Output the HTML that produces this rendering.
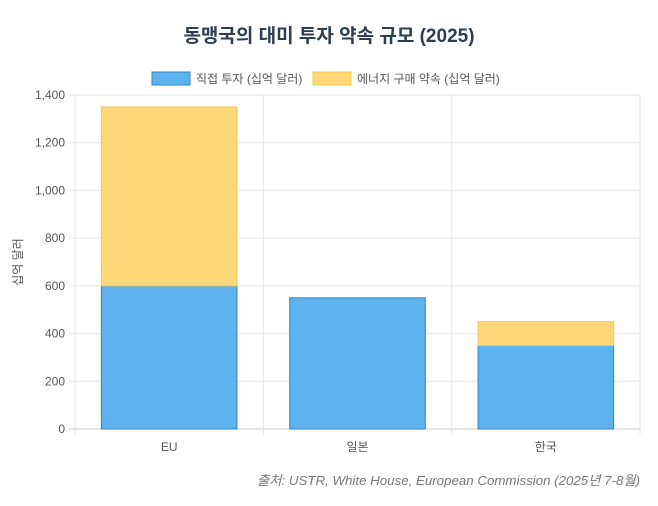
<!DOCTYPE html>
<html><head><meta charset="utf-8">
<style>
body{margin:0;background:#fff;width:658px;height:501px;overflow:hidden;font-family:"Liberation Sans","Noto Sans CJK KR",sans-serif;}
</style></head>
<body>
<svg id="chart" width="658" height="501" xmlns="http://www.w3.org/2000/svg" font-family="'Liberation Sans','Noto Sans CJK KR',sans-serif">
<text x="329" y="42" text-anchor="middle" font-size="19" font-weight="bold" fill="#2c3e50">동맹국의 대미 투자 약속 규모 (2025)</text>
<g>
<rect x="152" y="72" width="38" height="13" fill="#5eb3ee" stroke="#2f86c8"/>
<text x="196" y="83" font-size="12" fill="#555">직접 투자 (십억 달러)</text>
<rect x="313" y="72" width="38" height="13" fill="#fdd879" stroke="#f5c94f"/>
<text x="357" y="83" font-size="12" fill="#555">에너지 구매 약속 (십억 달러)</text>
</g>
<text transform="translate(22,262) rotate(-90)" text-anchor="middle" font-size="12" fill="#555">십억 달러</text>
<g id="grid"></g><g id="bars"></g><g id="labels"></g>
<text x="640" y="485" text-anchor="end" font-size="13.3" font-style="italic" fill="#777">출처: USTR, White House, European Commission (2025년 7-8월)</text>
</svg>
<script>
const categories=["EU","일본","한국"];
const directInvestment=[600,550,350];
const energyPurchase=[750,0,100];
const yTicks=[0,200,400,600,800,1000,1200,1400];
const yTickLabels=["0","200","400","600","800","1,000","1,200","1,400"];
const NS="http://www.w3.org/2000/svg";
const L=75,R=640,T=95,B=429,yMax=1400;
const y=v=>B-(v/yMax)*(B-T);
const bw=(R-L)/categories.length;
const x=i=>L+i*bw;
function mk(parent,tag,attrs){const e=document.createElementNS(NS,tag);for(const k in attrs)e.setAttribute(k,attrs[k]);document.getElementById(parent).appendChild(e);return e;}
yTicks.forEach((t,i)=>{
 const g=mk("grid","line",{x1:L-6,x2:R,y1:y(t),y2:y(t),stroke:i==0?"#ccc":"#e6e6e6"});
 
 
 const tx=mk("labels","text",{x:L-10,y:y(t)+4,"text-anchor":"end","font-size":12,fill:"#555"});
 tx.textContent=yTickLabels[i];
 
 
});
for(let i=0;i<=categories.length;i++){
 const g=mk("grid","line",{x1:x(i),x2:x(i),y1:T,y2:B+6,stroke:"#e6e6e6"});
 
 
}
categories.forEach((c,i)=>{
 const w=bw*0.72,bx=x(i)+(bw-w)/2;
 const d=directInvestment[i],e=energyPurchase[i];
 const r1=mk("bars","rect",{x:bx,y:y(d),width:w,height:B-y(d),fill:"#5eb3ee",stroke:"#2f86c8","stroke-width":1});
 
 
 if(e>0){
  const r2=mk("bars","rect",{x:bx,y:y(d+e),width:w,height:y(d)-y(d+e),fill:"#fdd879",stroke:"#f5c94f","stroke-width":1});
  
  
 }
 const t=mk("labels","text",{x:x(i)+bw/2,y:451,"text-anchor":"middle","font-size":12,fill:"#555"});
 t.textContent=c;
 
 
});
</script>
</body></html>
